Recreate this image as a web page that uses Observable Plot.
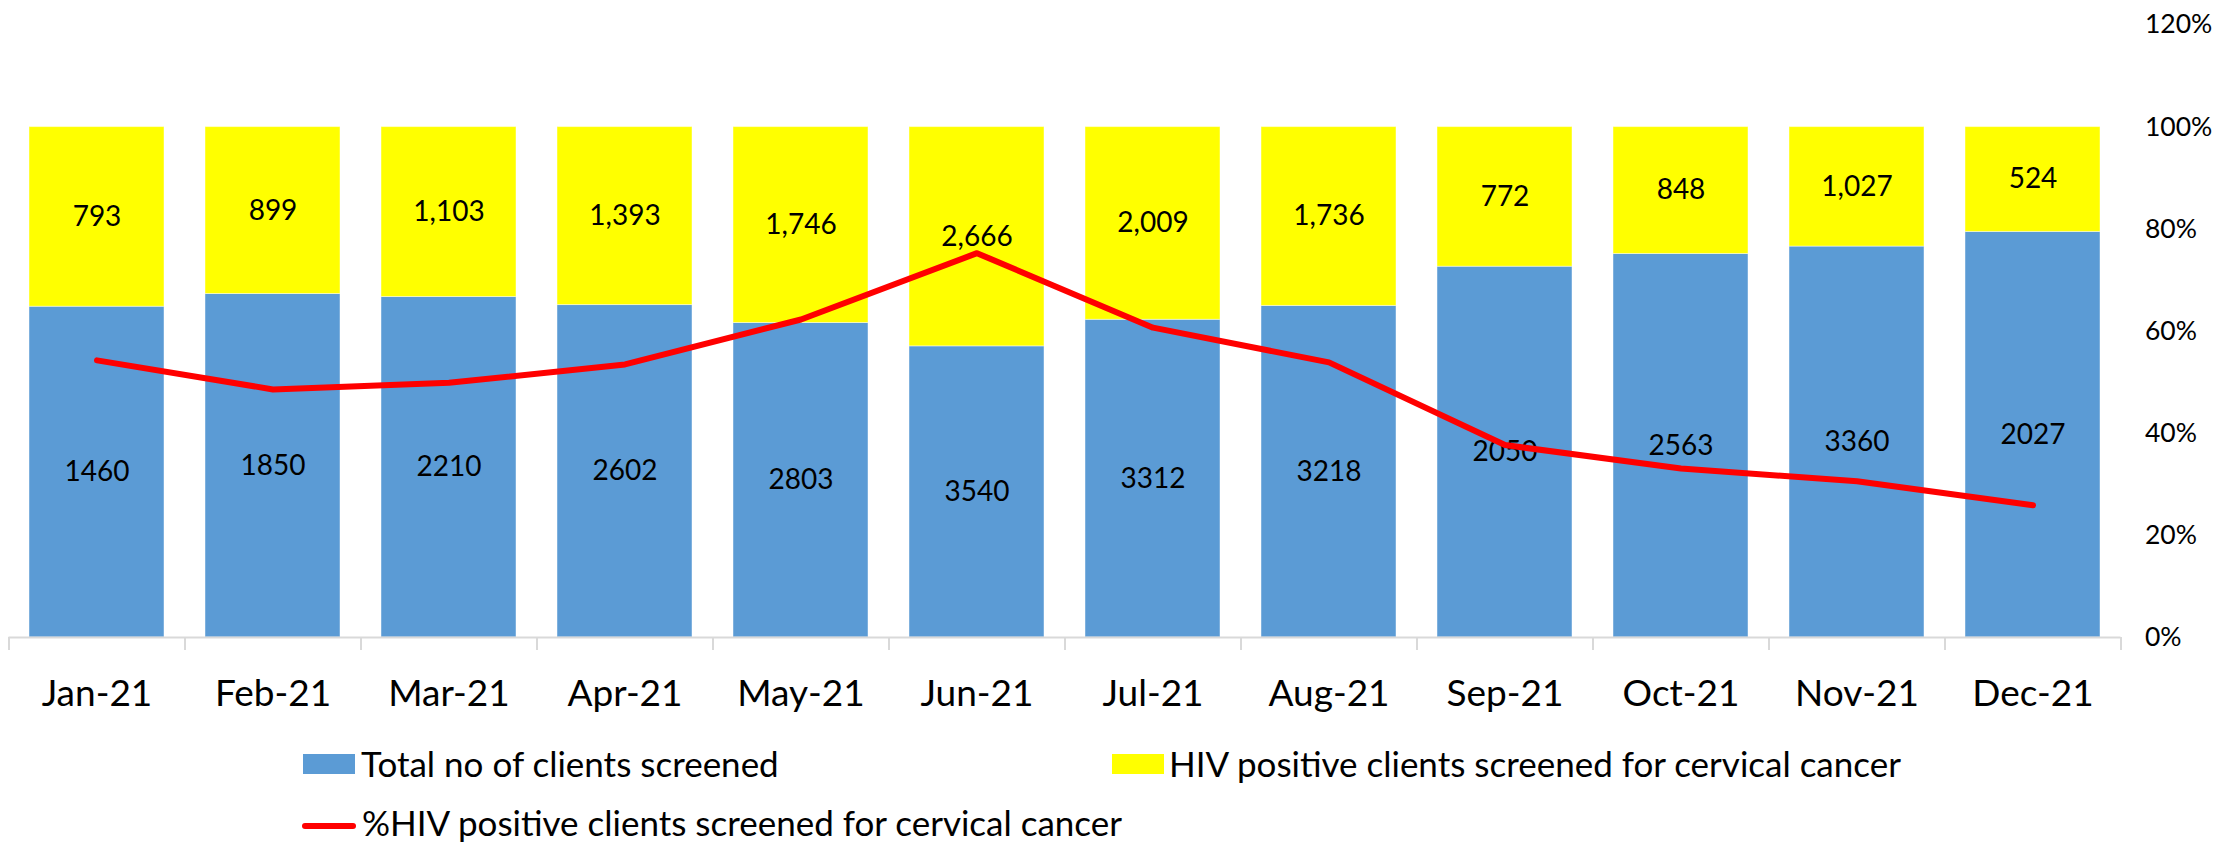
<!DOCTYPE html>
<html><head><meta charset="utf-8">
<script src="https://cdn.jsdelivr.net/npm/d3@7"></script>
<script src="https://cdn.jsdelivr.net/npm/@observablehq/plot@0.6"></script>
<style>
body{margin:0;background:#fff;font-family:Lato,sans-serif;}
#legend{position:relative;width:2219px;height:102px;font-family:Lato,sans-serif;font-size:35px;color:#000;}
#legend .sw{position:absolute;}
#legend .tx{position:absolute;white-space:nowrap;line-height:1;}
</style></head><body>
<div id="chart"></div>
<div id="legend"></div>
<script>
const months = ["Jan-21","Feb-21","Mar-21","Apr-21","May-21","Jun-21","Jul-21","Aug-21","Sep-21","Oct-21","Nov-21","Dec-21"];
const totalScreened = [1460,1850,2210,2602,2803,3540,3312,3218,2050,2563,3360,2027];
const hivPositive = [793,899,1103,1393,1746,2666,2009,1736,772,848,1027,524];
const hivPct = [54.3,48.6,49.9,53.5,62.3,75.3,60.7,53.9,37.7,33.1,30.6,25.9];
const pctTicks = [0,0.2,0.4,0.6,0.8,1.0,1.2];
const seriesNames = ["Total no of clients screened","HIV positive clients screened for cervical cancer","%HIV positive clients screened for cervical cancer"];
const seriesColors = ["#5B9BD5","#FFFF00","#FF0000"];

const W = 2219, H = 740, ML = 8.5, MR = 98.5, MT = 24.5, MB = 103;
const step = (W - ML - MR) / months.length;

const rows = [
  ...months.map((m,i)=>({month:m, series:seriesNames[0], value:totalScreened[i]})),
  ...months.map((m,i)=>({month:m, series:seriesNames[1], value:hivPositive[i]}))
];
const pctRows = months.map((m,i)=>({month:m, pct:hivPct[i]/100}));
const fmtComma = d3.format(",");
const tickLen = 13 / ((H - MT - MB) / 1.2);

const chart = Plot.plot({
  width: W, height: H,
  marginLeft: ML, marginRight: MR, marginTop: MT, marginBottom: MB,
  style: {fontFamily: "Lato, sans-serif", background: "#fff", color: "#000"},
  x: {domain: months, paddingInner: 0.234, paddingOuter: 0.117, label: null},
  y: {domain: [0, 1.2], label: null},
  color: {domain: seriesNames.slice(0,2), range: seriesColors.slice(0,2)},
  marks: [
    Plot.barY(rows, Plot.stackY({offset: "normalize", x: "month", y: "value", z: "series", fill: "series", stroke: "#ffffff", strokeOpacity: 0.45, strokeWidth: 1})),
    Plot.ruleY([0], {stroke: "#d9d9d9", strokeWidth: 2}),
    Plot.ruleX(months, {x: d => d, dx: -step/2, y1: 0, y2: -tickLen, stroke: "#d9d9d9", strokeWidth: 2}),
    Plot.ruleX(months.slice(-1), {x: d => d, dx: step/2, y1: 0, y2: -tickLen, stroke: "#d9d9d9", strokeWidth: 2}),
    Plot.text(rows, Plot.stackY({offset: "normalize", x: "month", y: "value", z: "series",
      text: d => d.series === seriesNames[1] ? fmtComma(d.value) : String(d.value),
      fontSize: 28, fill: "#000"})),
    Plot.line(pctRows, {x: "month", y: "pct", stroke: seriesColors[2], strokeWidth: 6, strokeLinecap: "round", strokeLinejoin: "round"}),
    Plot.axisX({fontSize: 37, tickSize: 0, tickPadding: 42, label: null}),
    Plot.axisY(pctTicks, {anchor: "right", tickFormat: d3.format(".0%"), tickSize: 0, tickPadding: 24, fontSize: 26.5, label: null})
  ]
});
document.getElementById("chart").appendChild(chart);

// legend (below the svg)
const legend = document.getElementById("legend");
const items = [
  {name: seriesNames[0], color: seriesColors[0], type: "rect", sx: 303, sy: 14, tx: 361, ty: 6},
  {name: seriesNames[1], color: seriesColors[1], type: "rect", sx: 1112, sy: 14, tx: 1169, ty: 6},
  {name: seriesNames[2], color: seriesColors[2], type: "line", sx: 302, sy: 86, tx: 362, ty: 65}
];
for (const it of items) {
  const sw = document.createElement("div");
  sw.className = "sw";
  if (it.type === "rect") {
    Object.assign(sw.style, {left: it.sx+"px", top: it.sy+"px", width: "52px", height: "20px", background: it.color});
  } else {
    Object.assign(sw.style, {left: it.sx+"px", top: (it.sy-3)+"px", width: "54px", height: "6px", background: it.color, borderRadius: "3px"});
  }
  legend.appendChild(sw);
  const tx = document.createElement("div");
  tx.className = "tx";
  tx.textContent = it.name;
  Object.assign(tx.style, {left: it.tx+"px", top: it.ty+"px"});
  legend.appendChild(tx);
}
</script>
</body></html>
